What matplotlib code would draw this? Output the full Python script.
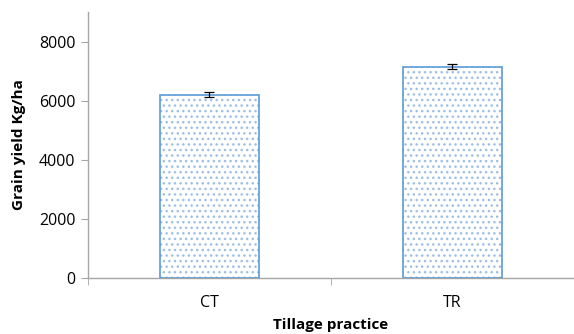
import matplotlib.pyplot as plt
import numpy as np

# tillage practice vs grain yield
categories = ["CT", "TR"]
grain_yield = [6200, 7150]
yield_err = [90, 90]
y_ticks = [0, 2000, 4000, 6000, 8000]

plt.rcParams["font.family"] = ["Open Sans", "DejaVu Sans"]

fig = plt.figure(figsize=(5.74, 3.34), dpi=100)
ax = fig.add_axes([0.1533, 0.1677, 0.8467, 0.7963])

x = np.arange(len(categories))
w = 0.41

# dotted fill, then the blue outline on top
ax.bar(x, grain_yield, width=w, color="white", edgecolor="#9DBFE6",
       hatch="...", linewidth=0, zorder=2)
ax.bar(x, grain_yield, width=w, color="none", edgecolor="#5B9BD5",
       linewidth=1.2, zorder=3)
ax.errorbar(x, grain_yield, yerr=yield_err, fmt="none", ecolor="black",
            elinewidth=0.9, capsize=3.5, capthick=0.9, zorder=4)

ax.set_xlim(-0.5, 1.5)
ax.set_ylim(0, 9000)
ax.set_yticks(y_ticks)
ax.set_yticklabels([str(v) for v in y_ticks], fontsize=11.5)
ax.set_xticks(x)
ax.set_xticklabels(categories, fontsize=11.5)
ax.set_xticks([-0.5, 0.5, 1.5], minor=True)
ax.tick_params(axis="x", which="major", length=0, pad=12)
ax.tick_params(axis="x", which="minor", length=5, color="#A6A6A6")
ax.tick_params(axis="y", length=5, color="#A6A6A6", pad=4)

for s in ["top", "right"]:
    ax.spines[s].set_visible(False)
for s in ["left", "bottom"]:
    ax.spines[s].set_color("#A6A6A6")
    ax.spines[s].set_linewidth(1)

ax.set_ylabel("Grain yield Kg/ha", fontsize=11, fontweight="bold", labelpad=9)
ax.set_xlabel("Tillage practice", fontsize=11, fontweight="bold", labelpad=5)

fig.savefig("out.png", dpi=100)
